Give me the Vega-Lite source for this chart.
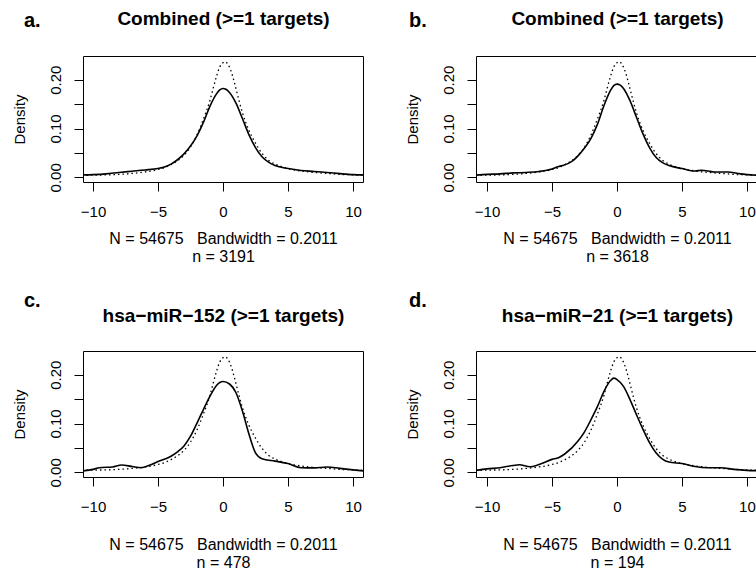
{
  "$schema": "https://vega.github.io/schema/vega-lite/v6.json",
  "background": "white",
  "padding": {"left": 11, "top": 8, "right": 0, "bottom": 0},
  "columns": 2,
  "spacing": {"row": 169, "column": 113},
  "bounds": "flush",
  "datasets": {
    "bg": [
      {"x": -10.85, "y": 0.004}, {"x": -10, "y": 0.0045}, {"x": -9, "y": 0.005}, {"x": -8, "y": 0.006}, {"x": -7, "y": 0.008},
      {"x": -6, "y": 0.011}, {"x": -5, "y": 0.016}, {"x": -4.5, "y": 0.02}, {"x": -4, "y": 0.026}, {"x": -3.5, "y": 0.034},
      {"x": -3, "y": 0.045}, {"x": -2.5, "y": 0.062}, {"x": -2, "y": 0.087}, {"x": -1.5, "y": 0.12}, {"x": -1, "y": 0.158},
      {"x": -0.75, "y": 0.183}, {"x": -0.5, "y": 0.207}, {"x": -0.25, "y": 0.226}, {"x": 0, "y": 0.235}, {"x": 0.15, "y": 0.237},
      {"x": 0.35, "y": 0.233}, {"x": 0.6, "y": 0.219}, {"x": 0.85, "y": 0.197}, {"x": 1.1, "y": 0.171}, {"x": 1.5, "y": 0.132},
      {"x": 2, "y": 0.096}, {"x": 2.5, "y": 0.07}, {"x": 3, "y": 0.049}, {"x": 3.5, "y": 0.035}, {"x": 4, "y": 0.027},
      {"x": 4.5, "y": 0.022}, {"x": 5, "y": 0.018}, {"x": 6, "y": 0.013}, {"x": 7, "y": 0.01}, {"x": 8, "y": 0.008},
      {"x": 9, "y": 0.006}, {"x": 10, "y": 0.005}, {"x": 10.85, "y": 0.004}
    ],
    "a": [
      {"x": -10.77, "y": 0.005}, {"x": -10, "y": 0.0055}, {"x": -9, "y": 0.007}, {"x": -8, "y": 0.01}, {"x": -7, "y": 0.0125},
      {"x": -6, "y": 0.015}, {"x": -5, "y": 0.018}, {"x": -4.5, "y": 0.021}, {"x": -4, "y": 0.027}, {"x": -3.5, "y": 0.036},
      {"x": -3, "y": 0.048}, {"x": -2.5, "y": 0.064}, {"x": -2, "y": 0.085}, {"x": -1.5, "y": 0.113}, {"x": -1, "y": 0.146},
      {"x": -0.5, "y": 0.171}, {"x": -0.25, "y": 0.179}, {"x": 0, "y": 0.182}, {"x": 0.25, "y": 0.18}, {"x": 0.5, "y": 0.174},
      {"x": 1, "y": 0.152}, {"x": 1.5, "y": 0.12}, {"x": 2, "y": 0.087}, {"x": 2.5, "y": 0.061}, {"x": 3, "y": 0.042},
      {"x": 3.5, "y": 0.031}, {"x": 4, "y": 0.024}, {"x": 5, "y": 0.018}, {"x": 6, "y": 0.014}, {"x": 7, "y": 0.012},
      {"x": 8, "y": 0.01}, {"x": 9, "y": 0.0075}, {"x": 10, "y": 0.0055}, {"x": 10.77, "y": 0.005}
    ],
    "b": [
      {"x": -10.85, "y": 0.0045}, {"x": -10, "y": 0.006}, {"x": -9, "y": 0.007}, {"x": -8, "y": 0.009}, {"x": -7, "y": 0.01},
      {"x": -6, "y": 0.012}, {"x": -5, "y": 0.017}, {"x": -4.5, "y": 0.022}, {"x": -4.2, "y": 0.024}, {"x": -3.5, "y": 0.032},
      {"x": -3, "y": 0.044}, {"x": -2.5, "y": 0.06}, {"x": -2, "y": 0.08}, {"x": -1.5, "y": 0.109}, {"x": -1, "y": 0.147},
      {"x": -0.5, "y": 0.178}, {"x": -0.25, "y": 0.188}, {"x": 0, "y": 0.191}, {"x": 0.25, "y": 0.189}, {"x": 0.5, "y": 0.182},
      {"x": 1, "y": 0.157}, {"x": 1.5, "y": 0.123}, {"x": 2, "y": 0.089}, {"x": 2.5, "y": 0.061}, {"x": 3, "y": 0.041},
      {"x": 3.5, "y": 0.03}, {"x": 4, "y": 0.024}, {"x": 5, "y": 0.018}, {"x": 6, "y": 0.013}, {"x": 6.5, "y": 0.0145},
      {"x": 7, "y": 0.013}, {"x": 7.5, "y": 0.011}, {"x": 8.5, "y": 0.011}, {"x": 9.5, "y": 0.007}, {"x": 10.85, "y": 0.004}
    ],
    "c": [
      {"x": -10.77, "y": 0.003}, {"x": -10, "y": 0.006}, {"x": -9.5, "y": 0.0095}, {"x": -8.5, "y": 0.011}, {"x": -7.8, "y": 0.015},
      {"x": -7, "y": 0.012}, {"x": -6.3, "y": 0.0095}, {"x": -5.5, "y": 0.016}, {"x": -5, "y": 0.022}, {"x": -4, "y": 0.033},
      {"x": -3.5, "y": 0.042}, {"x": -3, "y": 0.054}, {"x": -2.5, "y": 0.074}, {"x": -2, "y": 0.101}, {"x": -1.5, "y": 0.129},
      {"x": -1, "y": 0.156}, {"x": -0.5, "y": 0.178}, {"x": 0, "y": 0.186}, {"x": 0.5, "y": 0.181}, {"x": 1, "y": 0.163},
      {"x": 1.5, "y": 0.125}, {"x": 2, "y": 0.078}, {"x": 2.5, "y": 0.04}, {"x": 3, "y": 0.028}, {"x": 4, "y": 0.023},
      {"x": 5, "y": 0.018}, {"x": 6, "y": 0.0095}, {"x": 7, "y": 0.009}, {"x": 8, "y": 0.011}, {"x": 9, "y": 0.008},
      {"x": 10, "y": 0.005}, {"x": 10.77, "y": 0.003}
    ],
    "d": [
      {"x": -10.85, "y": 0.004}, {"x": -10, "y": 0.007}, {"x": -9, "y": 0.0095}, {"x": -8, "y": 0.014}, {"x": -7.5, "y": 0.0155},
      {"x": -6.7, "y": 0.0115}, {"x": -6, "y": 0.016}, {"x": -5, "y": 0.0265}, {"x": -4.5, "y": 0.03}, {"x": -4, "y": 0.038},
      {"x": -3, "y": 0.064}, {"x": -2.5, "y": 0.083}, {"x": -2, "y": 0.108}, {"x": -1.5, "y": 0.135}, {"x": -1, "y": 0.166},
      {"x": -0.5, "y": 0.188}, {"x": -0.25, "y": 0.193}, {"x": 0, "y": 0.19}, {"x": 0.5, "y": 0.176}, {"x": 1, "y": 0.149},
      {"x": 1.5, "y": 0.118}, {"x": 2, "y": 0.088}, {"x": 2.5, "y": 0.061}, {"x": 3, "y": 0.04}, {"x": 3.5, "y": 0.027},
      {"x": 4, "y": 0.021}, {"x": 5, "y": 0.018}, {"x": 6, "y": 0.012}, {"x": 7, "y": 0.0095}, {"x": 8, "y": 0.0095},
      {"x": 9, "y": 0.006}, {"x": 10, "y": 0.004}, {"x": 10.85, "y": 0.0035}
    ]
  },
  "concat": [
    {
      "width": 280, "height": 126,
      "title": {"text": "a.", "anchor": "start", "frame": "bounds", "offset": -22, "dx": 12},
      "encoding": {
        "y": {"field": "y", "type": "quantitative",
          "scale": {"domain": [-0.0096, 0.2486], "nice": false, "zero": false},
          "axis": {"title": "Density", "values": [0, 0.05, 0.1, 0.15, 0.2], "format": ".2f",
            "labelExpr": "(abs(datum.value-0.05)<0.001 || abs(datum.value-0.15)<0.001) ? '' : datum.label",
            "labelAngle": -90, "labelAlign": "center", "labelBaseline": "bottom", "labelPadding": 11, "titlePadding": 21}}
      },
      "layer": [
        {"data": {"name": "bg"},
         "mark": {"type": "line", "interpolate": "monotone", "strokeDash": [1.5, 3], "strokeWidth": 1.3, "color": "#000", "clip": true},
         "encoding": {"x": {"field": "x", "type": "quantitative", "scale": {"domain": [-10.77, 10.77], "nice": false, "zero": false},
           "axis": {"orient": "top", "title": "Combined (>=1 targets)", "titleFontSize": 19, "titleFontWeight": "bold", "ticks": false, "labels": false, "titlePadding": 28}}}},
        {"data": {"name": "a"},
         "mark": {"type": "line", "interpolate": "monotone", "strokeWidth": 1.6, "color": "#000", "clip": true},
         "encoding": {"x": {"field": "x", "type": "quantitative",
           "axis": {"orient": "bottom", "values": [-10, -5, 0, 5, 10], "title": ["N = 54675\u00a0\u00a0\u00a0Bandwidth = 0.2011", "n = 3191"], "titleFontSize": 16, "titlePadding": 11, "labelPadding": 13}}}}
      ],
      "resolve": {"axis": {"x": "independent"}}
    },
    {
      "width": 282, "height": 126,
      "title": {"text": "b.", "anchor": "start", "frame": "bounds", "offset": -22, "dx": 4},
      "encoding": {
        "y": {"field": "y", "type": "quantitative",
          "scale": {"domain": [-0.0096, 0.2486], "nice": false, "zero": false},
          "axis": {"title": "Density", "values": [0, 0.05, 0.1, 0.15, 0.2], "format": ".2f",
            "labelExpr": "(abs(datum.value-0.05)<0.001 || abs(datum.value-0.15)<0.001) ? '' : datum.label",
            "labelAngle": -90, "labelAlign": "center", "labelBaseline": "bottom", "labelPadding": 11, "titlePadding": 21}}
      },
      "layer": [
        {"data": {"name": "bg"},
         "mark": {"type": "line", "interpolate": "monotone", "strokeDash": [1.5, 3], "strokeWidth": 1.3, "color": "#000", "clip": true},
         "encoding": {"x": {"field": "x", "type": "quantitative", "scale": {"domain": [-10.85, 10.85], "nice": false, "zero": false},
           "axis": {"orient": "top", "title": "Combined (>=1 targets)", "titleFontSize": 19, "titleFontWeight": "bold", "ticks": false, "labels": false, "titlePadding": 28}}}},
        {"data": {"name": "b"},
         "mark": {"type": "line", "interpolate": "monotone", "strokeWidth": 1.6, "color": "#000", "clip": true},
         "encoding": {"x": {"field": "x", "type": "quantitative",
           "axis": {"orient": "bottom", "values": [-10, -5, 0, 5, 10], "title": ["N = 54675\u00a0\u00a0\u00a0Bandwidth = 0.2011", "n = 3618"], "titleFontSize": 16, "titlePadding": 11, "labelPadding": 13}}}}
      ],
      "resolve": {"axis": {"x": "independent"}}
    },
    {
      "width": 280, "height": 126,
      "title": {"text": "c.", "anchor": "start", "frame": "bounds", "offset": -5, "dx": 12},
      "encoding": {
        "y": {"field": "y", "type": "quantitative",
          "scale": {"domain": [-0.0096, 0.2486], "nice": false, "zero": false},
          "axis": {"title": "Density", "values": [0, 0.05, 0.1, 0.15, 0.2], "format": ".2f",
            "labelExpr": "(abs(datum.value-0.05)<0.001 || abs(datum.value-0.15)<0.001) ? '' : datum.label",
            "labelAngle": -90, "labelAlign": "center", "labelBaseline": "bottom", "labelPadding": 11, "titlePadding": 21}}
      },
      "layer": [
        {"data": {"name": "bg"},
         "mark": {"type": "line", "interpolate": "monotone", "strokeDash": [1.5, 3], "strokeWidth": 1.3, "color": "#000", "clip": true},
         "encoding": {"x": {"field": "x", "type": "quantitative", "scale": {"domain": [-10.77, 10.77], "nice": false, "zero": false},
           "axis": {"orient": "top", "title": "hsa−miR−152 (>=1 targets)", "titleFontSize": 19, "titleFontWeight": "bold", "ticks": false, "labels": false, "titlePadding": 26}}}},
        {"data": {"name": "c"},
         "mark": {"type": "line", "interpolate": "monotone", "strokeWidth": 1.6, "color": "#000", "clip": true},
         "encoding": {"x": {"field": "x", "type": "quantitative",
           "axis": {"orient": "bottom", "values": [-10, -5, 0, 5, 10], "title": ["N = 54675\u00a0\u00a0\u00a0Bandwidth = 0.2011", "n = 478"], "titleFontSize": 16, "titlePadding": 22, "labelPadding": 13}}}}
      ],
      "resolve": {"axis": {"x": "independent"}}
    },
    {
      "width": 282, "height": 126,
      "title": {"text": "d.", "anchor": "start", "frame": "bounds", "offset": -5, "dx": 4},
      "encoding": {
        "y": {"field": "y", "type": "quantitative",
          "scale": {"domain": [-0.0096, 0.2486], "nice": false, "zero": false},
          "axis": {"title": "Density", "values": [0, 0.05, 0.1, 0.15, 0.2], "format": ".2f",
            "labelExpr": "(abs(datum.value-0.05)<0.001 || abs(datum.value-0.15)<0.001) ? '' : datum.label",
            "labelAngle": -90, "labelAlign": "center", "labelBaseline": "bottom", "labelPadding": 11, "titlePadding": 21}}
      },
      "layer": [
        {"data": {"name": "bg"},
         "mark": {"type": "line", "interpolate": "monotone", "strokeDash": [1.5, 3], "strokeWidth": 1.3, "color": "#000", "clip": true},
         "encoding": {"x": {"field": "x", "type": "quantitative", "scale": {"domain": [-10.85, 10.85], "nice": false, "zero": false},
           "axis": {"orient": "top", "title": "hsa−miR−21 (>=1 targets)", "titleFontSize": 19, "titleFontWeight": "bold", "ticks": false, "labels": false, "titlePadding": 26}}}},
        {"data": {"name": "d"},
         "mark": {"type": "line", "interpolate": "monotone", "strokeWidth": 1.6, "color": "#000", "clip": true},
         "encoding": {"x": {"field": "x", "type": "quantitative",
           "axis": {"orient": "bottom", "values": [-10, -5, 0, 5, 10], "title": ["N = 54675\u00a0\u00a0\u00a0Bandwidth = 0.2011", "n = 194"], "titleFontSize": 16, "titlePadding": 22, "labelPadding": 13}}}}
      ],
      "resolve": {"axis": {"x": "independent"}}
    }
  ],
  "config": {
    "font": "Liberation Sans",
    "view": {"stroke": "#000", "strokeWidth": 1},
    "axis": {"grid": false, "domain": false, "tickColor": "#000", "tickSize": 9, "tickWidth": 1,
      "labelColor": "#000", "titleColor": "#000", "labelFontSize": 15, "titleFontSize": 15, "titleFontWeight": "normal",
      "labelFont": "Liberation Sans", "titleFont": "Liberation Sans", "titleLineHeight": 18},
    "title": {"fontSize": 20, "fontWeight": "bold", "color": "#000", "font": "Liberation Sans"}
  }
}
